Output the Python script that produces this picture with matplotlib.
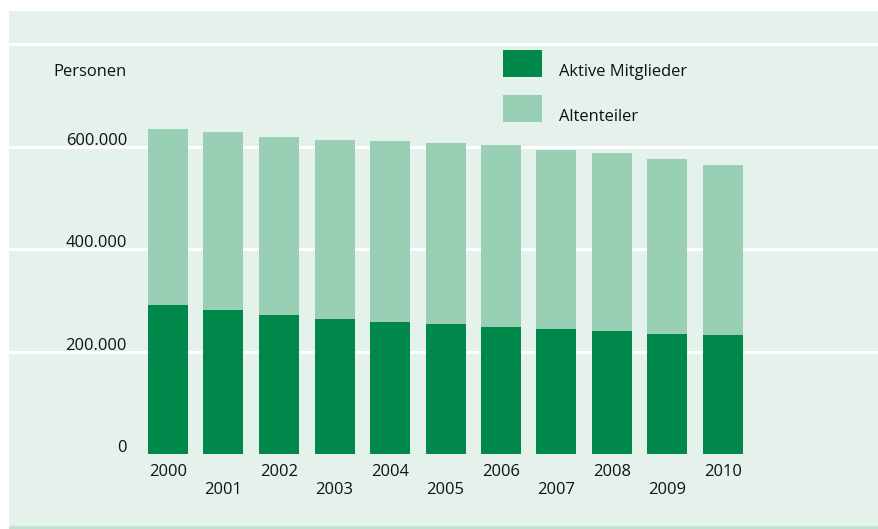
import matplotlib
matplotlib.use("Agg")
import matplotlib.pyplot as plt
from matplotlib.patches import Rectangle

years = ["2000", "2001", "2002", "2003", "2004", "2005", "2006", "2007", "2008", "2009", "2010"]
aktive = [291000, 281000, 272000, 264000, 258000, 254000, 248000, 244000, 240000, 234500, 232500]
gesamt = [634000, 628000, 618500, 613000, 611000, 607000, 603000, 593000, 587000, 576000, 564000]
altenteiler = [g - a for g, a in zip(gesamt, aktive)]
yticks = [0, 200000, 400000, 600000]
ytick_labels = ["0", "200.000", "400.000", "600.000"]
ylabel = "Personen"
legend_labels = ["Aktive Mitglieder", "Altenteiler"]

W, H = 879, 529
DARK = "#00884a"
LIGHT = "#99cfb4"
BG = "#e5f1eb"
TXT = "#111111"
FONT = "Open Sans"
FS = 11.9

fig = plt.figure(figsize=(W / 100, H / 100), dpi=100)
fig.patch.set_facecolor("white")

def fx(x):
    return x / W

def fy(y):
    return 1 - y / H

# background panel and bottom line
fig.patches.append(Rectangle((fx(9), fy(526)), 1 - fx(9), fy(11) - fy(526),
                             transform=fig.transFigure, facecolor=BG, edgecolor="none", zorder=-2))
fig.patches.append(Rectangle((fx(9), 0), 1 - fx(9), fy(526),
                             transform=fig.transFigure, facecolor="#bfe3d0", edgecolor="none", zorder=-2))

# axes geometry in pixels
y0_px = 454.3
px_per_unit = 102.6 / 200000
top_px = 11
c0, step = 168.0, 55.5
left_px, right_px = 9, 879

ax = fig.add_axes([fx(left_px), fy(y0_px), fx(right_px) - fx(left_px), fy(top_px) - fy(y0_px)])
ax.set_zorder(1)
ax.set_facecolor("none")
ax.patch.set_visible(False)
ax.set_ylim(0, (y0_px - top_px) / px_per_unit)
ax.set_xlim((left_px - c0) / step, (right_px - c0) / step)
for s in ax.spines.values():
    s.set_visible(False)
ax.set_xticks([])
ax.set_yticks([])

for g in [200000, 400000, 600000, 800000]:
    ax.axhline(g, color="white", lw=2.2, zorder=1)

x = list(range(len(years)))
bw = 40 / step
ax.bar(x, aktive, width=bw, color=DARK, zorder=2, linewidth=0)
ax.bar(x, altenteiler, bottom=aktive, width=bw, color=LIGHT, zorder=2, linewidth=0)

# year labels, alternating rows
for i, yr in enumerate(years):
    ypix = 472 if i % 2 == 0 else 490
    fig.text(fx(c0 + step * i), fy(ypix), yr, ha="center", va="center",
             fontsize=FS, family=FONT, color=TXT, zorder=5)

# y tick labels
for v, lab in zip(yticks, ytick_labels):
    base = y0_px - v * px_per_unit - 2
    fig.text(fx(127), fy(base), lab, ha="right", va="baseline",
             fontsize=FS, family=FONT, color=TXT, zorder=5)
fig.text(fx(127), fy(76), ylabel, ha="right", va="baseline",
         fontsize=FS, family=FONT, color=TXT, zorder=5)

# legend
fig.patches.append(Rectangle((fx(503), fy(77)), fx(542) - fx(503), fy(50) - fy(77),
                             transform=fig.transFigure, facecolor=DARK, edgecolor="none", zorder=3))
fig.patches.append(Rectangle((fx(503), fy(122)), fx(542) - fx(503), fy(95) - fy(122),
                             transform=fig.transFigure, facecolor=LIGHT, edgecolor="none", zorder=3))
fig.text(fx(559), fy(76), legend_labels[0], ha="left", va="baseline",
         fontsize=FS, family=FONT, color=TXT, zorder=5)
fig.text(fx(559), fy(121), legend_labels[1], ha="left", va="baseline",
         fontsize=FS, family=FONT, color=TXT, zorder=5)

fig.savefig("out.png", dpi=100)
